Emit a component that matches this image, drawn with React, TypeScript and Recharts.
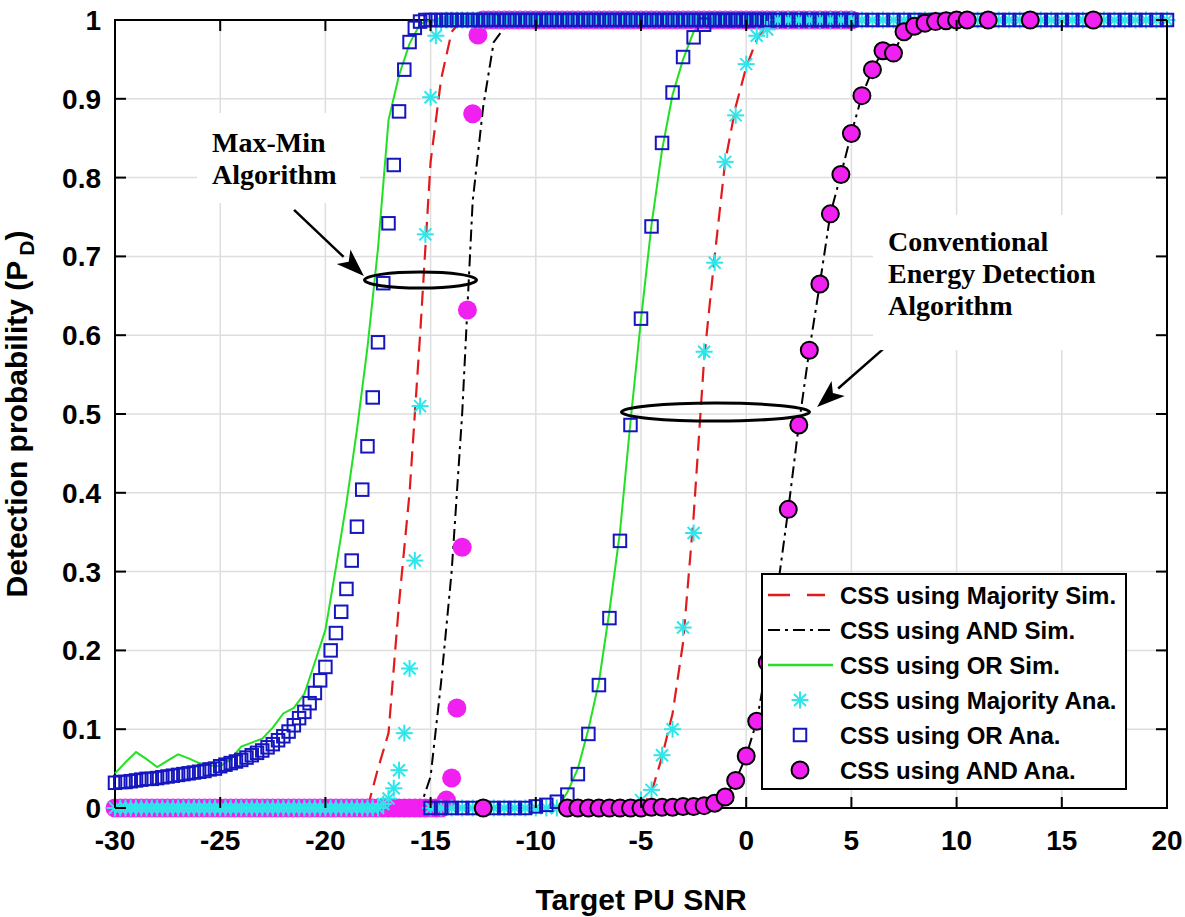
import React from 'react'
import {
  LineChart,
  Line,
  XAxis,
  YAxis,
  CartesianGrid,
  ReferenceArea,
  ReferenceDot,
  ReferenceLine,
  Label,
} from 'recharts'

const CHART_W = 1185
const CHART_H = 917
// plot box in page pixels (body margin removed below)
const PLOT = { left: 115, right: 1167, top: 20, bottom: 808 }

const SANS = 'Arial, "Liberation Sans", sans-serif'
const SERIF = '"Times New Roman", "Liberation Serif", serif'

const RED = '#e31a1c'
const GREEN = '#22e022'
const BLUE = '#1616c0'
const CYAN = '#2ee6ea'
const MAGENTA = '#f020f0'

const xTicks = [-30, -25, -20, -15, -10, -5, 0, 5, 10, 15, 20]
const yTicks = [0, 0.1, 0.2, 0.3, 0.4, 0.5, 0.6, 0.7, 0.8, 0.9, 1]

// ---- Max-Min algorithm, analytical curves (0.25 dB grid) ----
const mmSnrFine = [
  -30, -29.75, -29.5, -29.25, -29, -28.75, -28.5, -28.25, -28, -27.75, -27.5, -27.25, -27, -26.75, -26.5, -26.25, -26, -25.75, -25.5, -25.25,
  -25, -24.75, -24.5, -24.25, -24, -23.75, -23.5, -23.25, -23, -22.75, -22.5, -22.25, -22, -21.75, -21.5, -21.25, -21, -20.75, -20.5, -20.25,
  -20, -19.75, -19.5, -19.25, -19, -18.75, -18.5, -18.25, -18, -17.75, -17.5, -17.25, -17, -16.75, -16.5, -16.25, -16, -15.75, -15.5, -15.25,
  -15, -14.75, -14.5, -14.25, -14, -13.75, -13.5, -13.25, -13, -12.75, -12.5, -12.25, -12, -11.75, -11.5, -11.25, -11, -10.75, -10.5, -10.25,
  -10, -9.75, -9.5, -9.25, -9, -8.75, -8.5, -8.25, -8, -7.75, -7.5, -7.25, -7, -6.75, -6.5, -6.25, -6, -5.75, -5.5, -5.25,
  -5, -4.75, -4.5, -4.25, -4, -3.75, -3.5, -3.25, -3, -2.75, -2.5, -2.25, -2, -1.75, -1.5, -1.25, -1, -0.75, -0.5, -0.25,
  0, 0.25, 0.5, 0.75, 1, 1.25, 1.5, 1.75, 2, 2.25, 2.5, 2.75, 3, 3.25, 3.5, 3.75, 4, 4.25, 4.5, 4.75,
  5,
]
const mmAndAna = [
  0, 0, 0, 0, 0, 0, 0, 0, 0, 0, 0, 0, 0, 0, 0, 0, 0, 0, 0, 0,
  0, 0, 0, 0, 0, 0, 0, 0, 0, 0, 0, 0, 0, 0, 0, 0, 0, 0, 0, 0,
  0, 0, 0, 0, 0, 0, 0, 0, 0, 0, 0, 0, 0, 0, 0, 0, 0, 0, 0, 0,
  0, 0, 0, 0.01, 0.038, 0.127, 0.331, 0.632, 0.881, 0.981, 1, 1, 1, 1, 1, 1, 1, 1, 1, 1,
  1, 1, 1, 1, 1, 1, 1, 1, 1, 1, 1, 1, 1, 1, 1, 1, 1, 1, 1, 1,
  1, 1, 1, 1, 1, 1, 1, 1, 1, 1, 1, 1, 1, 1, 1, 1, 1, 1, 1, 1,
  1, 1, 1, 1, 1, 1, 1, 1, 1, 1, 1, 1, 1, 1, 1, 1, 1, 1, 1, 1,
  1,
]
const mmMajAna = [
  0, 0, 0, 0, 0, 0, 0, 0, 0, 0, 0, 0, 0, 0, 0, 0, 0, 0, 0, 0,
  0, 0, 0, 0, 0, 0, 0, 0, 0, 0, 0, 0, 0, 0, 0, 0, 0, 0, 0, 0,
  0, 0, 0, 0, 0, 0, 0, 0, 0, 0, 0, 0.005, 0.012, 0.025, 0.048, 0.095, 0.177, 0.314, 0.51, 0.728,
  0.902, 0.98, 0.998, 1, 1, 1, 1, 1, 1, 1, 1, 1, 1, 1, 1, 1, 1, 1, 1, 1,
  1, 1, 1, 1, 1, 1, 1, 1, 1, 1, 1, 1, 1, 1, 1, 1, 1, 1, 1, 1,
  1, 1, 1, 1, 1, 1, 1, 1, 1, 1, 1, 1, 1, 1, 1, 1, 1, 1, 1, 1,
  1, 1, 1, 1, 1, 1, 1, 1, 1, 1, 1, 1, 1, 1, 1, 1, 1, 1, 1, 1,
  1,
]
const mmOrAna = [
  0.032, 0.033, 0.033, 0.034, 0.035, 0.036, 0.037, 0.037, 0.038, 0.039, 0.04, 0.041, 0.042, 0.043, 0.044, 0.045, 0.046, 0.047, 0.049, 0.05,
  0.053, 0.055, 0.057, 0.059, 0.061, 0.064, 0.067, 0.07, 0.073, 0.077, 0.081, 0.086, 0.091, 0.097, 0.105, 0.114, 0.122, 0.133, 0.146, 0.162,
  0.179, 0.2, 0.222, 0.249, 0.278, 0.314, 0.357, 0.404, 0.459, 0.521, 0.591, 0.666, 0.742, 0.816, 0.884, 0.937, 0.972, 0.99, 0.998, 1,
  1, 1, 1, 1, 1, 1, 1, 1, 1, 1, 1, 1, 1, 1, 1, 1, 1, 1, 1, 1,
  1, 1, 1, 1, 1, 1, 1, 1, 1, 1, 1, 1, 1, 1, 1, 1, 1, 1, 1, 1,
  1, 1, 1, 1, 1, 1, 1, 1, 1, 1, 1, 1, 1, 1, 1, 1, 1, 1, 1, 1,
  1, 1, 1, 1, 1, 1, 1, 1, 1, 1, 1, 1, 1, 1, 1, 1, 1, 1, 1, 1,
  1,
]

// ---- Max-Min algorithm, simulated curves (0.5 dB grid) ----
const mmSnrSim = [
  -30, -29.5, -29, -28.5, -28, -27.5, -27, -26.5, -26, -25.5,
  -25, -24.5, -24, -23.5, -23, -22.5, -22, -21.5, -21, -20.5,
  -20, -19.5, -19, -18.5, -18, -17.5, -17, -16.5, -16, -15.5,
  -15, -14.5, -14, -13.5, -13, -12.5, -12, -11.5, -11, -10.5,
  -10, -9.5, -9, -8.5, -8, -7.5, -7, -6.5, -6, -5.5,
  -5, -4.5, -4, -3.5, -3, -2.5, -2, -1.5, -1, -0.5,
  0, 0.5, 1, 1.5, 2, 2.5, 3, 3.5, 4, 4.5,
  5,
]
const mmOrSim = [
  0.044, 0.058, 0.071, 0.062, 0.052, 0.06, 0.068, 0.063, 0.057, 0.054,
  0.053, 0.062, 0.078, 0.083, 0.088, 0.102, 0.12, 0.127, 0.145, 0.185,
  0.226, 0.305, 0.387, 0.48, 0.585, 0.71, 0.873, 0.93, 0.97, 0.995,
  1, 1, 1, 1, 1, 1, 1, 1, 1, 1,
  1, 1, 1, 1, 1, 1, 1, 1, 1, 1,
  1, 1, 1, 1, 1, 1, 1, 1, 1, 1,
  1, 1, 1, 1, 1, 1, 1, 1, 1, 1,
  1,
]
const mmMajSim = [
  0, 0, 0, 0, 0, 0, 0, 0, 0, 0,
  0, 0, 0, 0, 0, 0, 0, 0, 0, 0,
  0, 0, 0, 0, 0, 0.05, 0.095, 0.26, 0.4, 0.6,
  0.82, 0.925, 0.985, 1, 1, 1, 1, 1, 1, 1,
  1, 1, 1, 1, 1, 1, 1, 1, 1, 1,
  1, 1, 1, 1, 1, 1, 1, 1, 1, 1,
  1, 1, 1, 1, 1, 1, 1, 1, 1, 1,
  1,
]
const mmAndSim = [
  0, 0, 0, 0, 0, 0, 0, 0, 0, 0,
  0, 0, 0, 0, 0, 0, 0, 0, 0, 0,
  0, 0, 0, 0, 0, 0, 0, 0, 0, 0,
  0.04, 0.16, 0.3, 0.5, 0.77, 0.89, 0.972, 0.99, 1, 1,
  1, 1, 1, 1, 1, 1, 1, 1, 1, 1,
  1, 1, 1, 1, 1, 1, 1, 1, 1, 1,
  1, 1, 1, 1, 1, 1, 1, 1, 1, 1,
  1,
]

// ---- Conventional energy detection (0.5 dB grid) ----
const convSnr = [
  -15, -14.5, -14, -13.5, -13, -12.5, -12, -11.5, -11, -10.5,
  -10, -9.5, -9, -8.5, -8, -7.5, -7, -6.5, -6, -5.5,
  -5, -4.5, -4, -3.5, -3, -2.5, -2, -1.5, -1, -0.5,
  0, 0.5, 1, 1.5, 2, 2.5, 3, 3.5, 4, 4.5,
  5, 5.5, 6, 6.5, 7, 7.5, 8, 8.5, 9, 9.5,
  10, 10.5, 11, 11.5, 12, 12.5, 13, 13.5, 14, 14.5,
  15, 15.5, 16, 16.5, 17, 17.5, 18, 18.5, 19, 19.5,
  20,
]
const convOrSim = [
  0, 0, 0, 0, 0, 0, 0, 0, 0, 0,
  0, 0, 0, 0.02, 0.05, 0.1, 0.16, 0.25, 0.35, 0.49,
  0.62, 0.74, 0.835, 0.905, 0.95, 0.985, 1, 1, 1, 1,
  1, 1, 1, 1, 1, 1, 1, 1, 1, 1,
  1, 1, 1, 1, 1, 1, 1, 1, 1, 1,
  1, 1, 1, 1, 1, 1, 1, 1, 1, 1,
  1, 1, 1, 1, 1, 1, 1, 1, 1, 1,
  1,
]
const convOrAna = [
  0, 0, 0, 0, 0, 0, 0, 0, 0, 0,
  0.002, 0.004, 0.008, 0.017, 0.043, 0.094, 0.156, 0.241, 0.339, 0.486,
  0.621, 0.738, 0.844, 0.908, 0.953, 0.978, 0.994, 1, 1, 1,
  1, 1, 1, 1, 1, 1, 1, 1, 1, 1,
  1, 1, 1, 1, 1, 1, 1, 1, 1, 1,
  1, 1, 1, 1, 1, 1, 1, 1, 1, 1,
  1, 1, 1, 1, 1, 1, 1, 1, 1, 1,
  1,
]
const convMajSim = [
  0, 0, 0, 0, 0, 0, 0, 0, 0, 0,
  0, 0, 0, 0, 0, 0, 0, 0, 0, 0,
  0, 0.02, 0.065, 0.12, 0.21, 0.37, 0.57, 0.7, 0.82, 0.89,
  0.94, 0.975, 0.995, 1, 1, 1, 1, 1, 1, 1,
  1, 1, 1, 1, 1, 1, 1, 1, 1, 1,
  1, 1, 1, 1, 1, 1, 1, 1, 1, 1,
  1, 1, 1, 1, 1, 1, 1, 1, 1, 1,
  1,
]
const convMajAna = [
  0, 0, 0, 0, 0, 0, 0, 0, 0, 0,
  0, 0, 0, 0, 0, 0, 0, 0, 0, 0,
  0.01, 0.023, 0.067, 0.1, 0.229, 0.349, 0.579, 0.692, 0.82, 0.879,
  0.944, 0.98, 0.988, 1, 1, 1, 1, 1, 1, 1,
  1, 1, 1, 1, 1, 1, 1, 1, 1, 1,
  1, 1, 1, 1, 1, 1, 1, 1, 1, 1,
  1, 1, 1, 1, 1, 1, 1, 1, 1, 1,
  1,
]
const convAndSim = [
  0, 0, 0, 0, 0, 0, 0, 0, 0, 0,
  0, 0, 0, 0, 0, 0, 0, 0, 0, 0,
  0, 0, 0, 0, 0, 0, 0.003, 0.006, 0.014, 0.035,
  0.066, 0.11, 0.185, 0.28, 0.379, 0.486, 0.581, 0.665, 0.754, 0.804,
  0.856, 0.904, 0.937, 0.961, 0.958, 0.985, 0.992, 0.996, 0.998, 1,
  1, 1, 1, 1, 1, 1, 1, 1, 1, 1,
  1, 1, 1, 1, 1, 1, 1, 1, 1, 1,
  1,
]
const convAndAnaSnr = [
  -12.5, -8.5, -8, -7.5, -7, -6.5, -6, -5.5, -5,
  -4.5, -4, -3.5, -3, -2.5, -2, -1.5, -1, -0.5, 0,
  0.5, 1, 1.5, 2, 2.5, 3, 3.5, 4, 4.5, 5,
  5.5, 6, 6.5, 7, 7.5, 8, 8.5, 9, 9.5, 10,
  10.5, 11.5, 13.5, 16.5,
]
const convAndAna = [
  0, 0, 0, 0, 0, 0, 0, 0, 0,
  0.001, 0.001, 0.001, 0.002, 0.002, 0.003, 0.006, 0.014, 0.035, 0.066,
  0.11, 0.185, 0.28, 0.379, 0.486, 0.581, 0.665, 0.754, 0.804, 0.856,
  0.904, 0.937, 0.961, 0.958, 0.985, 0.992, 0.996, 0.998, 0.999, 1,
  1, 1, 1, 1,
]

const zip = (xs: number[], ys: number[]) => xs.map((x, i) => ({ x, y: ys[i] }))

// ---- markers ----
const squareDot = (p: any) => {
  const { cx, cy, index } = p
  if (cx == null || cy == null) return <g key={index} />
  const s = 12.5
  return (
    <rect key={index} x={cx - s / 2} y={cy - s / 2} width={s} height={s}
      fill="none" stroke={BLUE} strokeWidth={2} />
  )
}

const starDot = (p: any) => {
  const { cx, cy, index } = p
  if (cx == null || cy == null) return <g key={index} />
  const a = 8.5
  const d = 6
  return (
    <g key={index} stroke={CYAN} strokeWidth={2}>
      <line x1={cx - a} y1={cy} x2={cx + a} y2={cy} />
      <line x1={cx} y1={cy - a} x2={cx} y2={cy + a} />
      <line x1={cx - d} y1={cy - d} x2={cx + d} y2={cy + d} />
      <line x1={cx - d} y1={cy + d} x2={cx + d} y2={cy - d} />
    </g>
  )
}

const bigCircleDot = (p: any) => {
  const { cx, cy, index } = p
  if (cx == null || cy == null) return <g key={index} />
  return <circle key={index} cx={cx} cy={cy} r={9.5} fill={MAGENTA} stroke="none" />
}

const edgedCircleDot = (p: any) => {
  const { cx, cy, index } = p
  if (cx == null || cy == null) return <g key={index} />
  return <circle key={index} cx={cx} cy={cy} r={8.5} fill={MAGENTA} stroke="#000" strokeWidth={2} />
}

// ---- axes ----
function XTick(props: any) {
  const { x, payload } = props
  return (
    <g>
      <line x1={x} x2={x} y1={PLOT.bottom} y2={PLOT.bottom - 11} stroke="#000" strokeWidth={2} />
      <line x1={x} x2={x} y1={PLOT.top} y2={PLOT.top + 11} stroke="#000" strokeWidth={2} />
      <text x={x} y={850} textAnchor="middle" fontFamily={SANS} fontWeight="bold" fontSize={28} fill="#000">
        {payload.value}
      </text>
    </g>
  )
}

function YTick(props: any) {
  const { y, payload } = props
  return (
    <g>
      <line x1={PLOT.left} x2={PLOT.left + 11} y1={y} y2={y} stroke="#000" strokeWidth={2} />
      <line x1={PLOT.right} x2={PLOT.right - 11} y1={y} y2={y} stroke="#000" strokeWidth={2} />
      <text x={101} y={y + 10} textAnchor="end" fontFamily={SANS} fontWeight="bold" fontSize={28} fill="#000">
        {payload.value}
      </text>
    </g>
  )
}

const XTitle = () => (
  <text x={641} y={910} textAnchor="middle" fontFamily={SANS} fontWeight="bold" fontSize={30} fill="#000">
    Target PU SNR
  </text>
)

const YTitle = () => (
  <text x={27} y={414} transform="rotate(-90 27 414)" textAnchor="middle" fontFamily={SANS}
    fontWeight="bold" fontSize={30} fill="#000">
    Detection probability (P
    <tspan dx={5} dy={7} fontSize={21}>D</tspan>
    <tspan dy={-7}>)</tspan>
  </text>
)

// ---- annotations ----
const ellipseShape = (rx: number, ry: number) => (p: any) => (
  <ellipse cx={p.cx} cy={p.cy} rx={rx} ry={ry} fill="none" stroke="#000" strokeWidth={3} />
)

const textBoxShape = (lines: string[], w: number, h: number, baselines: number[]) => (p: any) => (
  <g>
    <rect x={p.cx} y={p.cy} width={w} height={h} fill="#fff" />
    {lines.map((t, i) => (
      <text key={t} x={p.cx + 15} y={p.cy + baselines[i]} fontFamily={SERIF} fontWeight="bold" fontSize={28} fill="#000">
        {t}
      </text>
    ))}
  </g>
)

const arrowShape = (p: any) => {
  const { x1, y1, x2, y2 } = p
  const ang = Math.atan2(y2 - y1, x2 - x1)
  const len = 28
  const hw = 10
  const bx = x2 - len * Math.cos(ang)
  const by = y2 - len * Math.sin(ang)
  const nx = -Math.sin(ang)
  const ny = Math.cos(ang)
  return (
    <g>
      <line x1={x1} y1={y1} x2={bx} y2={by} stroke="#000" strokeWidth={2.5} />
      <polygon
        points={`${x2},${y2} ${bx + nx * hw},${by + ny * hw} ${bx + (x2 - bx) * 0.25},${by + (y2 - by) * 0.25} ${bx - nx * hw},${by - ny * hw}`}
        fill="#000"
      />
    </g>
  )
}

// ---- legend ----
const legendRows = [
  'CSS using Majority Sim.',
  'CSS using AND Sim.',
  'CSS using OR Sim.',
  'CSS using Majority Ana.',
  'CSS using OR Ana.',
  'CSS using AND Ana.',
]

function LegendBox() {
  const rowY = [22, 57, 92, 127, 162, 197]
  return (
    <svg width={366} height={217} style={{ position: 'absolute', left: 761, top: 573 }}>
      <rect x={1} y={1} width={364} height={215} fill="#fff" stroke="#000" strokeWidth={2} />
      <line x1={7} x2={64} y1={rowY[0]} y2={rowY[0]} stroke={RED} strokeWidth={2.5} strokeDasharray="22 17" />
      <line x1={7} x2={71} y1={rowY[1]} y2={rowY[1]} stroke="#000" strokeWidth={2} strokeDasharray="12 5 3 5" />
      <line x1={7} x2={72} y1={rowY[2]} y2={rowY[2]} stroke={GREEN} strokeWidth={2.5} />
      {starDot({ cx: 39, cy: rowY[3], index: 'ls' })}
      {squareDot({ cx: 39, cy: rowY[4], index: 'lq' })}
      {edgedCircleDot({ cx: 39, cy: rowY[5], index: 'lc' })}
      {legendRows.map((t, i) => (
        <text key={t} x={79} y={rowY[i] + 9} fontFamily={SANS} fontWeight="bold" fontSize={24} fill="#000">
          {t}
        </text>
      ))}
    </svg>
  )
}

const simLine = { type: 'linear' as const, dot: false, activeDot: false, isAnimationActive: false }
const markerLine = { type: 'linear' as const, stroke: 'none', activeDot: false, isAnimationActive: false }

export default function App() {
  return (
    <>
      <style>{'body{margin:0;overflow:hidden;background:#fff}'}</style>
      <div style={{ position: 'relative', width: CHART_W, height: CHART_H }}>
        <LineChart width={CHART_W} height={CHART_H} margin={{ top: PLOT.top, right: CHART_W - PLOT.right, left: 0, bottom: 40 }}>
          <CartesianGrid stroke="#dedede" strokeWidth={1.5} />
          <XAxis type="number" dataKey="x" domain={[-30, 20]} ticks={xTicks} interval={0}
            tick={<XTick />} tickLine={false} axisLine={false} height={CHART_H - PLOT.bottom - 40}>
            <Label content={<XTitle />} />
          </XAxis>
          <YAxis type="number" domain={[0, 1]} ticks={yTicks} interval={0}
            tick={<YTick />} tickLine={false} axisLine={false} width={PLOT.left}>
            <Label content={<YTitle />} />
          </YAxis>

          {/* simulated curves */}
          <Line {...simLine} data={zip(mmSnrSim, mmMajSim)} dataKey="y" stroke={RED} strokeWidth={2.2} strokeDasharray="15 8" />
          <Line {...simLine} data={zip(mmSnrSim, mmAndSim)} dataKey="y" stroke="#000" strokeWidth={2} strokeDasharray="12 5 3 5" />
          <Line {...simLine} data={zip(mmSnrSim, mmOrSim)} dataKey="y" stroke={GREEN} strokeWidth={2} />
          <Line {...simLine} data={zip(convSnr, convMajSim)} dataKey="y" stroke={RED} strokeWidth={2.2} strokeDasharray="15 8" />
          <Line {...simLine} data={zip(convSnr, convAndSim)} dataKey="y" stroke="#000" strokeWidth={2} strokeDasharray="12 5 3 5" />
          <Line {...simLine} data={zip(convSnr, convOrSim)} dataKey="y" stroke={GREEN} strokeWidth={2} />

          {/* analytical markers */}
          <Line {...markerLine} data={zip(mmSnrFine, mmAndAna)} dataKey="y" dot={bigCircleDot} />
          <Line {...markerLine} data={zip(mmSnrFine, mmMajAna)} dataKey="y" dot={starDot} />
          <Line {...markerLine} data={zip(mmSnrFine, mmOrAna)} dataKey="y" dot={squareDot} />
          <Line {...markerLine} data={zip(convSnr, convMajAna)} dataKey="y" dot={starDot} />
          <Line {...markerLine} data={zip(convSnr, convOrAna)} dataKey="y" dot={squareDot} />
          <Line {...markerLine} data={zip(convAndAnaSnr, convAndAna)} dataKey="y" dot={edgedCircleDot} />

          {/* annotations */}
          <ReferenceDot x={-26.1} y={0.882} ifOverflow="visible"
            shape={textBoxShape(['Max-Min', 'Algorithm'], 163, 90, [39, 71])} />
          <ReferenceDot x={6.03} y={0.7525} ifOverflow="visible"
            shape={textBoxShape(['Conventional', 'Energy Detection', 'Algorithm'], 282, 135, [36, 68, 100])} />
          <ReferenceDot x={-15.48} y={0.67} ifOverflow="visible" shape={ellipseShape(56, 8)} />
          <ReferenceDot x={-1.46} y={0.5025} ifOverflow="visible" shape={ellipseShape(94, 9)} />
          <ReferenceLine segment={[{ x: -21.49, y: 0.759 }, { x: -18.17, y: 0.675 }]} ifOverflow="visible" shape={arrowShape} />
          <ReferenceLine segment={[{ x: 6.83, y: 0.59 }, { x: 3.37, y: 0.509 }]} ifOverflow="visible" shape={arrowShape} />

          <ReferenceArea x1={-30} x2={20} y1={0} y2={1} fill="none" stroke="#000" strokeWidth={2} ifOverflow="visible" />
        </LineChart>
        <LegendBox />
      </div>
    </>
  )
}
